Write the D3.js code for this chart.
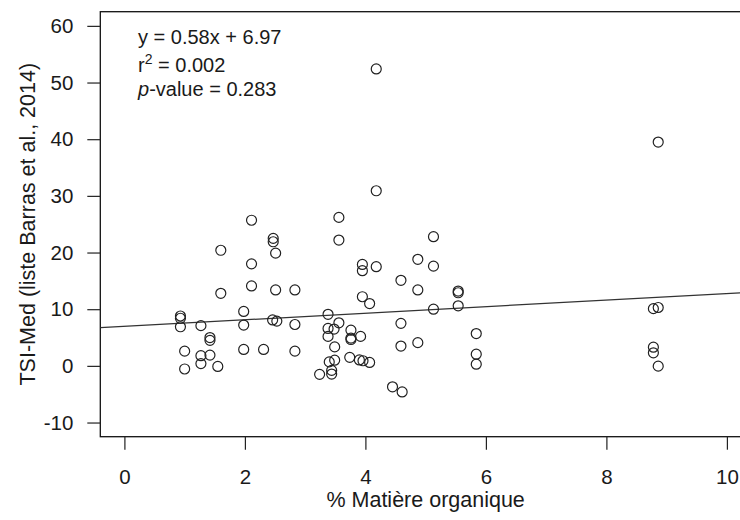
<!DOCTYPE html>
<html>
<head>
<meta charset="utf-8">
<script src="https://cdn.jsdelivr.net/npm/d3@7"></script>
<style>
  html, body { margin: 0; padding: 0; background: #fff; }
  svg { display: block; }
  text { font-family: "Liberation Sans", Arial, sans-serif; fill: #1a1a1a; }
</style>
</head>
<body>
<svg id="chart" width="740" height="520"></svg>
<script>
// ---- data ----
const organicMatter = [
  0.93, 0.93, 0.93, 1.00, 1.00, 1.27, 1.27, 1.27, 1.42, 1.42,
  1.42, 1.55, 1.60, 1.60, 1.98, 1.98, 1.98, 2.11, 2.11, 2.11,
  2.31, 2.47, 2.47, 2.51, 2.51, 2.46, 2.53, 2.83, 2.83, 2.83,
  3.24, 3.38, 3.38, 3.38, 3.40, 3.44, 3.44, 3.48, 3.49, 3.49,
  3.56, 3.56, 3.56, 3.76, 3.76, 3.76, 3.74, 3.90, 3.96, 4.07,
  3.92, 3.95, 3.95, 3.95, 4.07, 4.18, 4.18, 4.18, 4.45, 4.61,
  4.59, 4.59, 4.59, 4.87, 4.87, 4.87, 5.13, 5.13, 5.13, 5.54,
  5.54, 5.54, 5.84, 5.84, 5.84, 8.78, 8.86, 8.78, 8.78, 8.86,
  8.86
];
const tsiMed = [
  8.8, 8.4, 6.9, 2.6, -0.55, 7.1, 1.8, 0.4, 5.0, 4.5,
  1.9, -0.1, 20.4, 12.8, 9.6, 7.2, 2.9, 25.7, 18.0, 14.1,
  2.9, 22.5, 21.9, 19.9, 13.4, 8.1, 7.9, 13.4, 7.3, 2.6,
  -1.5, 9.1, 6.6, 5.2, 0.7, -0.8, -1.45, 6.5, 3.35, 1.0,
  26.2, 22.2, 7.6, 6.3, 4.9, 4.65, 1.5, 1.05, 0.9, 0.6,
  5.2, 17.9, 16.8, 12.2, 11.0, 52.4, 30.9, 17.5, -3.7, -4.6,
  15.1, 7.5, 3.5, 18.8, 13.4, 4.1, 22.8, 17.6, 10.0, 13.2,
  12.9, 10.6, 5.7, 2.06, 0.3, 10.1, 10.3, 3.3, 2.3, -0.05,
  39.5
];
const xTicks = [0, 2, 4, 6, 8, 10];
const yTicks = [-10, 0, 10, 20, 30, 40, 50, 60];
const slope = 0.58;
const intercept = 6.97;
const xLabel = "% Matière organique";
const yLabel = "TSI-Med (liste Barras et al., 2014)";

// ---- layout ----
const svg = d3.select("#chart");
const mLeft = 100.3, mTop = 11.7, mBottom = 436.7, mRight = 751;
const x = d3.scaleLinear().domain([-0.4, 10.4]).range([mLeft, mRight]);
const y = d3.scaleLinear().domain([-12.5, 62.5]).range([mBottom, mTop]);
const FS = 20.5, FT = 21.5, FA = 20;

// plot box
svg.append("rect")
  .attr("x", mLeft).attr("y", mTop)
  .attr("width", mRight - mLeft).attr("height", mBottom - mTop)
  .attr("fill", "none").attr("stroke", "#111").attr("stroke-width", 1.3);

// axes
const fmt = d => String(d);
const xAxis = d3.axisBottom(x).tickValues(xTicks).tickSize(13).tickPadding(20).tickFormat(fmt);
const gx = svg.append("g").attr("transform", `translate(0,${mBottom})`).call(xAxis);
gx.select(".domain").remove();
gx.selectAll("line").attr("stroke", "#222").attr("stroke-width", 1.2);
gx.selectAll("text").attr("font-size", FS).attr("fill", "#1a1a1a")
  .attr("font-family", "Liberation Sans, Arial, sans-serif");

const yAxis = d3.axisLeft(y).tickValues(yTicks).tickSize(13).tickPadding(14).tickFormat(fmt);
const gy = svg.append("g").attr("transform", `translate(${mLeft},0)`).call(yAxis);
gy.select(".domain").remove();
gy.selectAll("line").attr("stroke", "#222").attr("stroke-width", 1.2);
gy.selectAll("text").attr("font-size", FS).attr("fill", "#1a1a1a")
  .attr("font-family", "Liberation Sans, Arial, sans-serif");

// axis titles
svg.append("text")
  .attr("x", (x(0) + x(10)) / 2).attr("y", 507)
  .attr("text-anchor", "middle").attr("font-size", FT)
  .text(xLabel);
svg.append("text")
  .attr("transform", `translate(35,${(mTop + mBottom) / 2}) rotate(-90)`)
  .attr("text-anchor", "middle").attr("font-size", FT)
  .text(yLabel);

// clip to plot area
svg.append("clipPath").attr("id", "clip")
  .append("rect").attr("x", mLeft).attr("y", mTop)
  .attr("width", mRight - mLeft).attr("height", mBottom - mTop);

const plot = svg.append("g").attr("clip-path", "url(#clip)");

// regression line
const xd = x.domain();
plot.append("line")
  .attr("x1", x(xd[0])).attr("y1", y(slope * xd[0] + intercept))
  .attr("x2", x(xd[1])).attr("y2", y(slope * xd[1] + intercept))
  .attr("stroke", "#333").attr("stroke-width", 1.3);

// points
const pts = organicMatter.map((v, i) => ({ x: v, y: tsiMed[i] }));
plot.selectAll("circle").data(pts).enter().append("circle")
  .attr("cx", d => x(d.x)).attr("cy", d => y(d.y))
  .attr("r", 5)
  .attr("fill", "none").attr("stroke", "#222").attr("stroke-width", 1.2);

// annotation
const ann = svg.append("g").attr("font-size", FA);
const t1 = ann.append("text").attr("x", 138).attr("y", 44);
t1.text(`y = ${slope}x + ${intercept}`);
const t2 = ann.append("text").attr("x", 138).attr("y", 71.5);
t2.append("tspan").text("r");
t2.append("tspan").attr("dy", -8).attr("font-size", 14).text("2");
t2.append("tspan").attr("dy", 8).text(" = 0.002");
const t3 = ann.append("text").attr("x", 138).attr("y", 95.5);
t3.append("tspan").attr("font-style", "italic").text("p");
t3.append("tspan").text("-value = 0.283");
</script>
</body>
</html>
